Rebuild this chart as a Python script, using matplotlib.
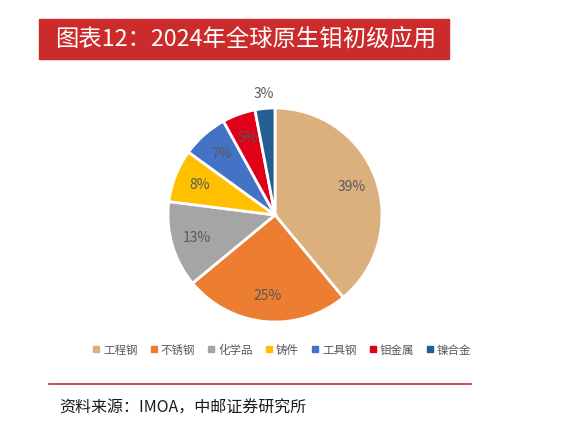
import matplotlib.pyplot as plt
from matplotlib.patches import Rectangle
from matplotlib.lines import Line2D
import numpy as np

plt.rcParams['font.family'] = ['Noto Sans CJK SC', 'DejaVu Sans']

labels = ['工程钢', '不锈钢', '化学品', '铸件', '工具钢', '钼金属', '镍合金']
shares = [39, 25, 13, 8, 7, 5, 3]
colors = ['#DBB07D', '#ED7D31', '#A5A5A5', '#FFC000', '#4472C4', '#E00018', '#255E91']

W, H = 588, 444
fig = plt.figure(figsize=(W / 100, H / 100), dpi=100)

# red title bar
fig.patches.append(Rectangle((39 / W, 1 - 59 / H), (449 - 39) / W, 40 / H,
                             transform=fig.transFigure, color='#CC2B2B', zorder=0))
fig.text(55 / W, 1 - 39 / H, '图表12：2024年全球原生钼初级应用', color='white',
         fontsize=16.8, va='center', ha='left')

# pie
cx, cy, r = 275, 215, 107
ax = fig.add_axes([(cx - r) / W, 1 - (cy + r) / H, 2 * r / W, 2 * r / H])
wedges, _ = ax.pie(shares, colors=colors, startangle=90, counterclock=False,
                   radius=1, wedgeprops=dict(edgecolor='white', linewidth=2))
ax.set_xlim(-1, 1)
ax.set_ylim(-1, 1)
ax.set_aspect('equal')
ax.axis('off')

for w, s in zip(wedges, shares):
    mid = np.deg2rad((w.theta1 + w.theta2) / 2)
    d = 1.14 if s == 3 else 0.76
    ax.text(d * np.cos(mid), d * np.sin(mid), f'{s}%', ha='center', va='center',
            fontsize=10, color='#595959', clip_on=False)

# legend
handles = [Line2D([], [], marker='s', linestyle='', markersize=4,
                  markerfacecolor=c, markeredgecolor=c) for c in colors]
fig.legend(handles, labels, loc='center', bbox_to_anchor=(281 / W, 1 - 350 / H),
           ncol=7, frameon=False, fontsize=8.3, handletextpad=0.1, columnspacing=0.9,
           handlelength=1.0, labelcolor='#595959')

# separator line and source
fig.add_artist(Line2D([49 / W, 471 / W], [1 - 384 / H, 1 - 384 / H],
                      transform=fig.transFigure, color='#B5343A', linewidth=1.2))
fig.text(59 / W, 1 - 408 / H, '资料来源：IMOA，中邮证券研究所', fontsize=11.5,
         color='#1A1A1A', va='center', ha='left')

fig.savefig('out.png', dpi=100)
